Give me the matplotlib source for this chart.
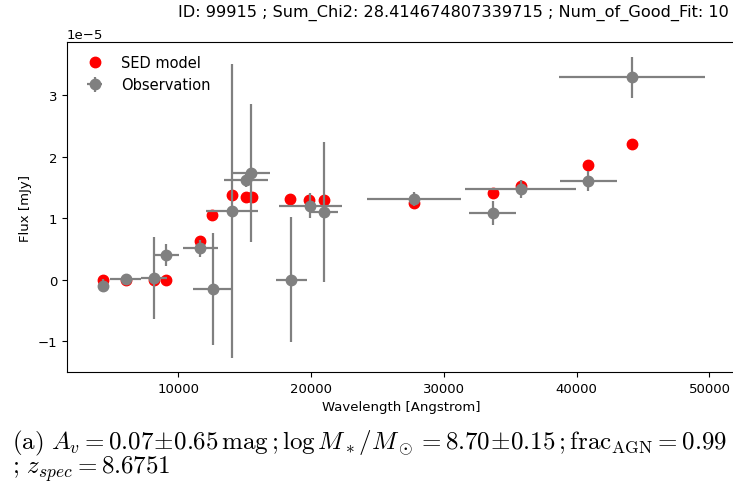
import numpy as np
import matplotlib
matplotlib.use('Agg')
import matplotlib.pyplot as plt

plt.rcParams['mathtext.fontset'] = 'cm'

# SED model fluxes (1e-5 mJy units)
model_wave = [4335, 6024, 8163, 9094, 11637, 12519, 14003, 15085, 15538,
              18430, 19815, 20999, 27745, 33660, 35800, 40885, 44185]
model_flux = [0.0, 0.0, 0.0, 0.0, 0.633, 1.05, 1.379, 1.341, 1.341,
              1.309, 1.287, 1.287, 1.244, 1.406, 1.525, 1.855, 2.20]

# observed photometry with errors
obs_wave = [4335, 6024, 8163, 9094, 11637, 12568, 14003, 15085, 15462,
            18508, 19943, 20999, 27745, 33660, 35800, 40885, 44185]
obs_wave_err = [300, 1185, 980, 970, 1310, 1450, 1960, 1660, 1450,
                1195, 2350, 980, 3520, 1775, 4180, 2165, 5490]
obs_flux = [-0.097, 0.01, 0.03, 0.405, 0.509, -0.151, 1.114, 1.612, 1.731,
            0.0, 1.2, 1.098, 1.309, 1.082, 1.471, 1.606, 3.288]
obs_flux_err = [0.1, 0.08, 0.67, 0.18, 0.14, 0.906, 2.39, 0.1, 1.12,
                1.02, 0.2, 1.14, 0.11, 0.19, 0.14, 0.16, 0.33]

scale = 1e-5
fig = plt.figure(figsize=(7.33, 4.89), dpi=100)
ax = fig.add_axes([67 / 733, 116 / 489, 669 / 733, 330 / 489])

ax.plot(model_wave, np.array(model_flux) * scale, 'o', color='red',
        markersize=7.5, label='SED model')
ax.errorbar(obs_wave, np.array(obs_flux) * scale,
            xerr=obs_wave_err, yerr=np.array(obs_flux_err) * scale,
            fmt='o', color='gray', markersize=7.5, elinewidth=1.6,
            label='Observation')

ax.set_xlim(1600, 52000)
ax.set_ylim(-1.5e-5, 3.86e-5)
ax.set_xticks([10000, 20000, 30000, 40000, 50000])
ax.tick_params(labelsize=9.5)
ax.yaxis.get_offset_text().set_fontsize(9.5)
ax.set_xlabel('Wavelength [Angstrom]', fontsize=9.5)
ax.set_ylabel('Flux [mJy]', fontsize=9.5)
ax.legend(loc='upper left', frameon=False, fontsize=10.5)

fig.text(453 / 733, 1 - 17 / 489,
         'ID: 99915 ; Sum_Chi2: 28.414674807339715 ; Num_of_Good_Fit: 10',
         ha='center', va='baseline', fontsize=11.6)

fig.text(12 / 733, 1 - 449 / 489,
         r'$\mathrm{(a)}\ A_v = 0.07\!\pm\!0.65\,\mathrm{mag}\,;\log M_*/M_\odot = 8.70\!\pm\!0.15\,;\mathrm{frac}_\mathrm{AGN} = 0.99$',
         ha='left', va='baseline', fontsize=18)
fig.text(12 / 733, 1 - 474 / 489, r'$;\,z_{spec} = 8.6751$',
         ha='left', va='baseline', fontsize=18)

fig.savefig('out.png', dpi=100)
